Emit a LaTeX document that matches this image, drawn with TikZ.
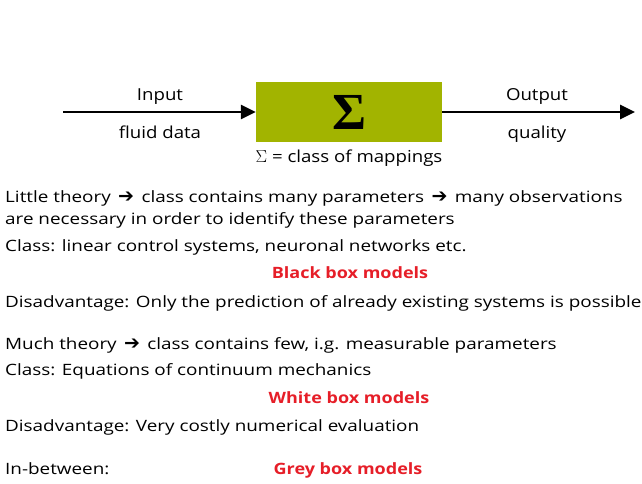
\documentclass[tikz,border=0pt]{standalone}
\usepackage{fontspec}
\setmainfont{Open Sans}
\newfontfamily\bodyfont{Open Sans}[FakeStretch=1.21]
\newfontfamily\labelfont{Open Sans}[FakeStretch=1.13]
\newfontfamily\titlefont{Open Sans}[FakeStretch=1.155]
\newfontfamily\symfont{DejaVu Sans}
\newfontfamily\sigmafont{Liberation Serif}
\usetikzlibrary{arrows.meta}

\definecolor{boxolive}{RGB}{162,180,0}
\definecolor{modelred}{RGB}{230,30,40}

% heavy arrow used inside the running text
\newcommand{\harrow}{\hspace{2.5pt}{\symfont\fontsize{19}{18}\selectfont\char"2794}\hspace{2.5pt}}

\tikzset{
  flowline/.style={line width=2.7pt, -{Triangle[length=15pt,width=14pt]}},
  label/.style={inner sep=0pt, anchor=base, font=\labelfont\fontsize{16.5}{19}\selectfont},
  bodytext/.style={inner sep=0pt, anchor=base west, font=\bodyfont\fontsize{15.6}{18}\selectfont},
  modeltitle/.style={inner sep=0pt, anchor=base, text=modelred, font=\titlefont\fontsize{15.6}{18}\selectfont\bfseries}
}

\begin{document}
\begin{tikzpicture}[x=1pt,y=-1pt]
  \useasboundingbox (0,0) rectangle (642,483);

  % mapping block and its input/output signals
  \node[fill=boxolive, minimum width=186pt, minimum height=60pt, inner sep=0pt,
        font=\sigmafont\fontsize{52}{52}\selectfont\bfseries] (sigma) at (349,112) {Σ};
  \coordinate (in) at (63,112);
  \coordinate (out) at (635,112);
  \draw[flowline] (in) -- (sigma.west);
  \draw[flowline] (sigma.east) -- (out);

  \node[label] (inlab) at (160,100.7) {Input};
  \node[label] (indata) at (160,138) {fluid data};
  \node[label] (outlab) at (537,100.7) {Output};
  \node[label] (outdata) at (537,138) {quality};
  \node[label] (sigmadef) at (349,162) {$\Sigma$ = class of mappings};

  % black box models
  \node[bodytext] (l1) at (5,202) {Little theory \harrow{} class contains many parameters \harrow{} many observations};
  \node[bodytext] (l2) at (5,224.5) {are necessary in order to identify these parameters};
  \node[bodytext] (l3) at (5,251) {Class: linear control systems, neuronal networks etc.};
  \node[modeltitle] (black) at (350,278.5) {Black box models};
  \node[bodytext] (l4) at (5,307.5) {Disadvantage: Only the prediction of already existing systems is possible};

  % white box models
  \node[bodytext] (l5) at (5,349.5) {Much theory \harrow{} class contains few, i.g. measurable parameters};
  \node[bodytext] (l6) at (5,375.5) {Class: Equations of continuum mechanics};
  \node[modeltitle] (white) at (349,403.5) {White box models};
  \node[bodytext] (l7) at (5,431) {Disadvantage: Very costly numerical evaluation};

  % grey box models
  \node[bodytext] (l8) at (5,474) {In-between:};
  \node[modeltitle] (grey) at (348,474) {Grey box models};
\end{tikzpicture}
\end{document}
